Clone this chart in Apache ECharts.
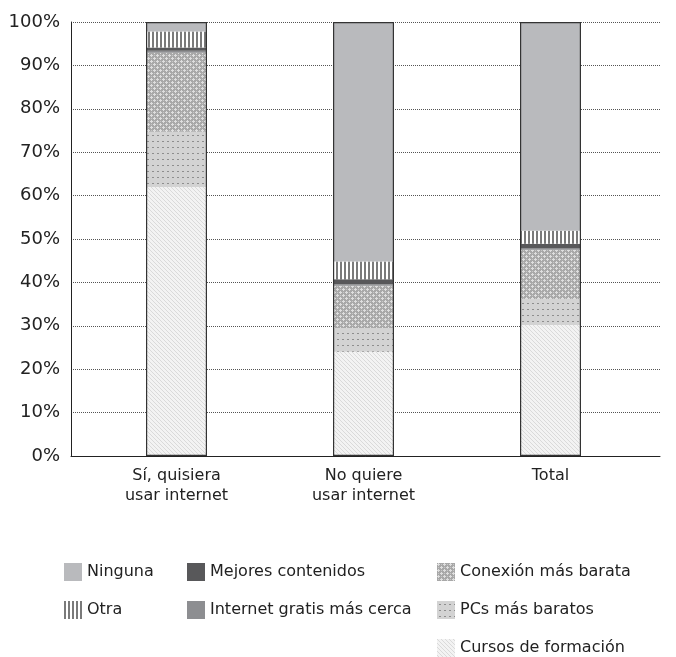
<!DOCTYPE html>
<html>
<head>
<meta charset="utf-8">
<script src="https://cdn.jsdelivr.net/npm/echarts@6/dist/echarts.min.js"></script>
<style>
html,body{margin:0;padding:0;background:#fff;}
#chart{width:676px;height:657px;}
</style>
</head>
<body>
<div id="chart"></div>
<script>
// ---- Data (percent of each group) ----
const categories = ['Sí, quisiera\nusar internet', 'No quiere\nusar internet', 'Total'];
const cursos   = [62.0, 24.0, 30.2];  // Cursos de formación
const pcs      = [12.7,  5.5,  6.0];  // PCs más baratos
const conexion = [18.2,  9.7, 11.3];  // Conexión más barata
const gratis   = [ 0.5,  0.4,  0.4];  // Internet gratis más cerca
const mejores  = [ 0.7,  1.1,  1.0];  // Mejores contenidos
const otra     = [ 3.7,  4.1,  3.0];  // Otra
const ninguna  = [ 2.2, 55.2, 48.1];  // Ninguna
const yTicks = [0, 10, 20, 30, 40, 50, 60, 70, 80, 90, 100];

// ---- Pattern helpers ----
function tile(w, h, draw) {
  const c = document.createElement('canvas');
  c.width = w; c.height = h;
  const ctx = c.getContext('2d');
  draw(ctx, w, h);
  return { image: c, repeat: 'repeat' };
}
const patOtra = tile(4, 4, (ctx) => {
  ctx.fillStyle = '#ffffff'; ctx.fillRect(0, 0, 4, 4);
  ctx.fillStyle = '#7a7a7a'; ctx.fillRect(0, 0, 2, 4);
});
const patConexion = tile(6, 6, (ctx) => {
  ctx.fillStyle = '#a8a8a8'; ctx.fillRect(0, 0, 6, 6);
  ctx.fillStyle = '#dedede';
  const plus = (x, y) => {
    ctx.fillRect(x, y - 1, 1, 3);
    ctx.fillRect(x - 1, y, 3, 1);
  };
  plus(1, 1); plus(4, 4);
  ctx.fillStyle = '#c6c6c6';
  ctx.fillRect(1, 4, 1, 1); ctx.fillRect(4, 1, 1, 1);
});
const patPcs = tile(5, 6, (ctx) => {
  ctx.fillStyle = '#d3d3d3'; ctx.fillRect(0, 0, 5, 6);
  ctx.fillStyle = '#8e8e8e'; ctx.fillRect(2, 3, 2, 1);
});
const patCursos = tile(4, 4, (ctx) => {
  ctx.fillStyle = '#f3f3f3'; ctx.fillRect(0, 0, 4, 4);
  ctx.fillStyle = '#dadada';
  for (let i = 0; i < 4; i++) ctx.fillRect(i, i, 1, 1);
});

const FONT = 'DejaVu Sans';
const totals = categories.map((_, i) =>
  cursos[i] + pcs[i] + conexion[i] + gratis[i] + mejores[i] + otra[i] + ninguna[i]);

function seg(name, data, color) {
  return {
    name, type: 'bar', stack: 'all', data,
    xAxisIndex: 1, yAxisIndex: 1,
    barWidth: 61,
    itemStyle: { color: color, borderWidth: 0 },
    emphasis: { disabled: true }
  };
}

const legendBase = {
  orient: 'vertical', itemWidth: 18, itemHeight: 18, itemGap: 20,
  top: 563, height: 140, padding: 0, selectedMode: false, icon: 'rect',
  textStyle: { fontFamily: FONT, fontSize: 16, color: '#222' }
};

const option = {
  animation: false,
  backgroundColor: '#ffffff',
  grid: [
    { left: 71, right: 16, top: 22, bottom: 201 },
    { left: 83, right: 32, top: 22, bottom: 201 }
  ],
  xAxis: [
    { type: 'category', gridIndex: 0, data: ['', '', ''],
      axisLine: { show: true, lineStyle: { color: '#222', width: 1 } },
      axisTick: { show: false }, axisLabel: { show: false } },
    { type: 'category', gridIndex: 1, data: categories,
      axisLine: { show: false }, axisTick: { show: false },
      axisLabel: { fontFamily: FONT, fontSize: 16, color: '#222', margin: 10, lineHeight: 20 } }
  ],
  yAxis: [
    { type: 'value', gridIndex: 0, min: 0, max: 100, interval: 10,
      axisLine: { show: true, lineStyle: { color: '#222', width: 1 } },
      axisTick: { show: false },
      splitLine: { show: true, lineStyle: { color: '#555', type: 'dotted', width: 1 } },
      axisLabel: { fontFamily: FONT, fontSize: 18, color: '#222', margin: 11,
        formatter: v => (yTicks.indexOf(v) >= 0 ? v + '%' : '') } },
    { type: 'value', gridIndex: 1, min: 0, max: 100, show: false }
  ],
  legend: [
    Object.assign({}, legendBase, { left: 64, data: ['Ninguna', 'Otra'] }),
    Object.assign({}, legendBase, { left: 187, data: ['Mejores contenidos', 'Internet gratis más cerca'] }),
    Object.assign({}, legendBase, { left: 437, data: ['Conexión más barata', 'PCs más baratos', 'Cursos de formación'] })
  ],
  series: [
    seg('Cursos de formación', cursos, patCursos),
    seg('PCs más baratos', pcs, patPcs),
    seg('Conexión más barata', conexion, patConexion),
    seg('Internet gratis más cerca', gratis, '#8d8e91'),
    seg('Mejores contenidos', mejores, '#58585a'),
    seg('Otra', otra, patOtra),
    seg('Ninguna', ninguna, '#b9babd'),
    {
      name: 'outline', type: 'bar', data: totals,
      xAxisIndex: 1, yAxisIndex: 1, barWidth: 61, barGap: '-100%',
      silent: true, z: 5,
      itemStyle: { color: 'rgba(0,0,0,0)', borderColor: '#333', borderWidth: 1.2 },
      emphasis: { disabled: true }
    }
  ]
};

const chart = echarts.init(document.getElementById('chart'), null, { renderer: 'canvas' });
chart.setOption(option);
</script>
</body>
</html>
